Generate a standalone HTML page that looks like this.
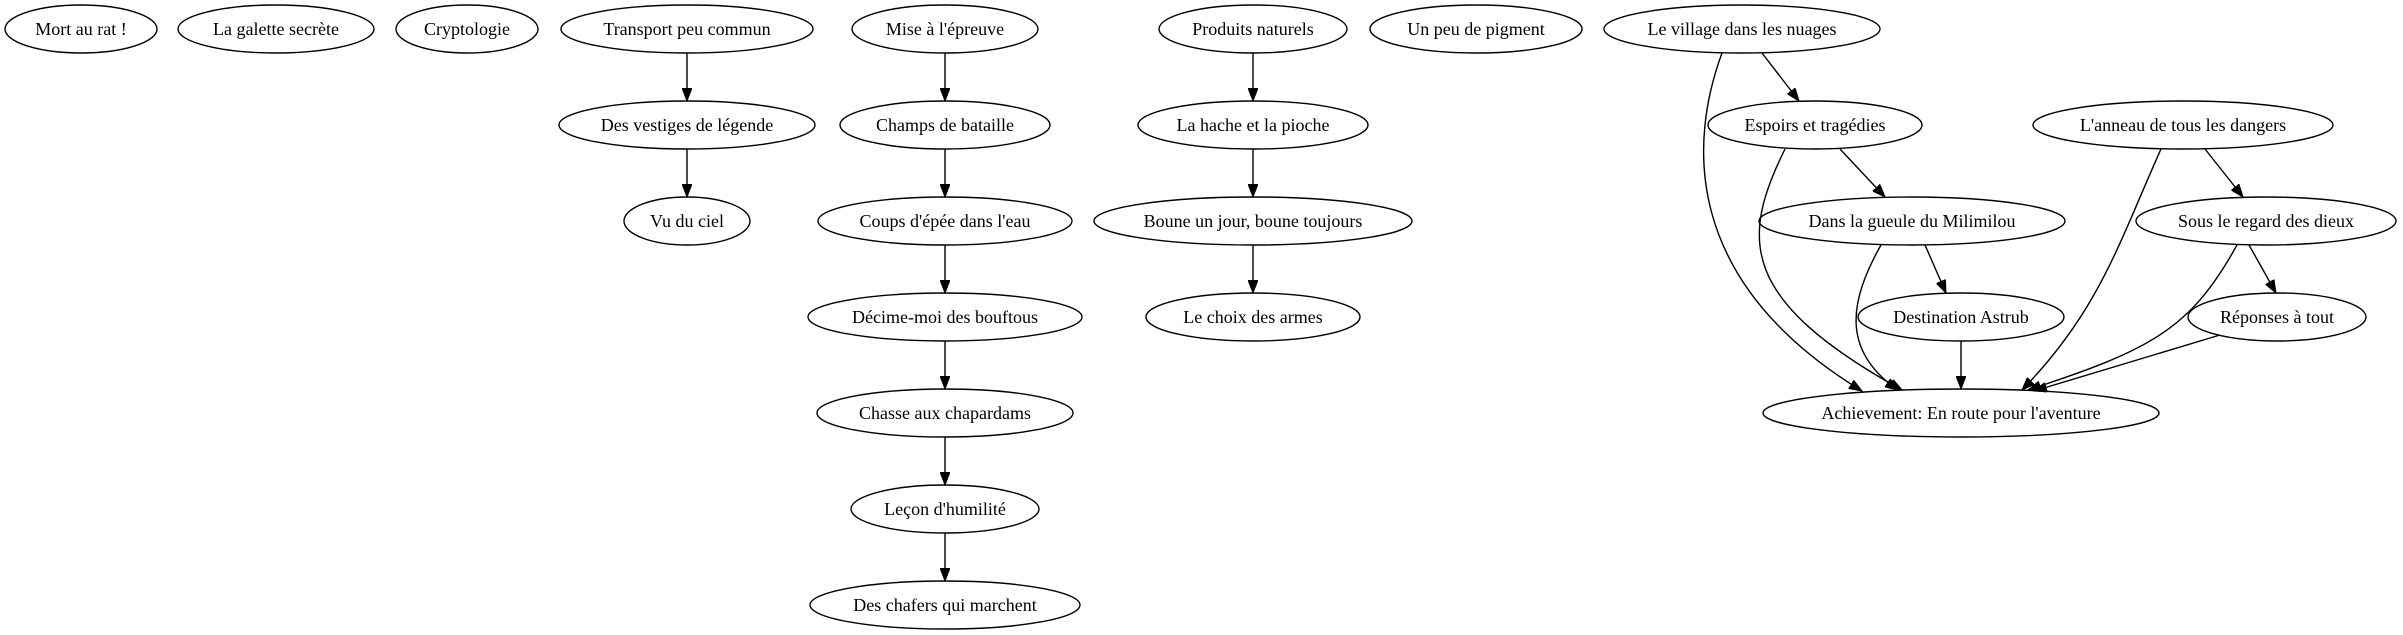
<!DOCTYPE html>
<html><head><meta charset="utf-8"><style>
html,body{margin:0;padding:0;background:#fff;}
svg{display:block;}
text{font-family:"Liberation Serif",serif;font-size:18px;text-anchor:middle;dominant-baseline:central;fill:#000;}
ellipse{fill:none;stroke:#000;stroke-width:1.4;}
path.e,line{fill:none;stroke:#000;stroke-width:1.4;}
path.h{fill:#000;stroke:#000;stroke-width:1;}
</style></head><body>
<svg width="2403" height="635" viewBox="0 0 2403 635" xmlns="http://www.w3.org/2000/svg">
<defs><marker id="a" markerWidth="14" markerHeight="10" refX="13" refY="5" orient="auto" markerUnits="userSpaceOnUse"><path class="h" d="M0,0 L13,5 L0,10 Z"/></marker></defs>
<g>
<ellipse cx="81" cy="29" rx="76" ry="24"/><text x="81" y="29">Mort au rat !</text>
<ellipse cx="276" cy="29" rx="98" ry="24"/><text x="276" y="29">La galette secrète</text>
<ellipse cx="467" cy="29" rx="71" ry="24"/><text x="467" y="29">Cryptologie</text>
<ellipse cx="687" cy="29" rx="126" ry="24"/><text x="687" y="29">Transport peu commun</text>
<ellipse cx="687" cy="125" rx="128" ry="24"/><text x="687" y="125">Des vestiges de légende</text>
<ellipse cx="687" cy="221" rx="63" ry="24"/><text x="687" y="221">Vu du ciel</text>
<ellipse cx="945" cy="29" rx="93" ry="24"/><text x="945" y="29">Mise à l'épreuve</text>
<ellipse cx="945" cy="125" rx="105" ry="24"/><text x="945" y="125">Champs de bataille</text>
<ellipse cx="945" cy="221" rx="127" ry="24"/><text x="945" y="221">Coups d'épée dans l'eau</text>
<ellipse cx="945" cy="317" rx="137" ry="24"/><text x="945" y="317">Décime-moi des bouftous</text>
<ellipse cx="945" cy="413" rx="128" ry="24"/><text x="945" y="413">Chasse aux chapardams</text>
<ellipse cx="945" cy="509" rx="94" ry="24"/><text x="945" y="509">Leçon d'humilité</text>
<ellipse cx="945" cy="605" rx="135" ry="24"/><text x="945" y="605">Des chafers qui marchent</text>
<ellipse cx="1253" cy="29" rx="94" ry="24"/><text x="1253" y="29">Produits naturels</text>
<ellipse cx="1253" cy="125" rx="115" ry="24"/><text x="1253" y="125">La hache et la pioche</text>
<ellipse cx="1253" cy="221" rx="159" ry="24"/><text x="1253" y="221">Boune un jour, boune toujours</text>
<ellipse cx="1253" cy="317" rx="107" ry="24"/><text x="1253" y="317">Le choix des armes</text>
<ellipse cx="1476" cy="29" rx="106" ry="24"/><text x="1476" y="29">Un peu de pigment</text>
<ellipse cx="1742" cy="29" rx="138" ry="24"/><text x="1742" y="29">Le village dans les nuages</text>
<ellipse cx="1815" cy="125" rx="107" ry="24"/><text x="1815" y="125">Espoirs et tragédies</text>
<ellipse cx="2183" cy="125" rx="150" ry="24"/><text x="2183" y="125">L'anneau de tous les dangers</text>
<ellipse cx="1912" cy="221" rx="153" ry="24"/><text x="1912" y="221">Dans la gueule du Milimilou</text>
<ellipse cx="2266" cy="221" rx="130" ry="24"/><text x="2266" y="221">Sous le regard des dieux</text>
<ellipse cx="1961" cy="317" rx="103" ry="24"/><text x="1961" y="317">Destination Astrub</text>
<ellipse cx="2277" cy="317" rx="89" ry="24"/><text x="2277" y="317">Réponses à tout</text>
<ellipse cx="1961" cy="413" rx="198" ry="24"/><text x="1961" y="413">Achievement: En route pour l'aventure</text>
</g>
<g>
<line x1="687" y1="53" x2="687" y2="101" marker-end="url(#a)"/>
<line x1="687" y1="149" x2="687" y2="197" marker-end="url(#a)"/>
<line x1="945" y1="53" x2="945" y2="101" marker-end="url(#a)"/>
<line x1="945" y1="149" x2="945" y2="197" marker-end="url(#a)"/>
<line x1="945" y1="245" x2="945" y2="293" marker-end="url(#a)"/>
<line x1="945" y1="341" x2="945" y2="389" marker-end="url(#a)"/>
<line x1="945" y1="437" x2="945" y2="485" marker-end="url(#a)"/>
<line x1="945" y1="533" x2="945" y2="581" marker-end="url(#a)"/>
<line x1="1253" y1="53" x2="1253" y2="101" marker-end="url(#a)"/>
<line x1="1253" y1="149" x2="1253" y2="197" marker-end="url(#a)"/>
<line x1="1253" y1="245" x2="1253" y2="293" marker-end="url(#a)"/>
<line x1="1762" y1="53" x2="1799" y2="101" marker-end="url(#a)"/>
<path class="e" d="M1722,53 C1690,140 1680,280 1862,391" marker-end="url(#a)"/>
<line x1="1840" y1="149" x2="1885" y2="197" marker-end="url(#a)"/>
<path class="e" d="M1785,149 C1740,240 1740,300 1902,390" marker-end="url(#a)"/>
<line x1="1925" y1="245" x2="1946" y2="293" marker-end="url(#a)"/>
<path class="e" d="M1881,245 C1850,300 1840,350 1898,390" marker-end="url(#a)"/>
<line x1="1961" y1="341" x2="1961" y2="389" marker-end="url(#a)"/>
<line x1="2205" y1="149" x2="2243" y2="197" marker-end="url(#a)"/>
<path class="e" d="M2161,149 C2120,240 2100,310 2022,390" marker-end="url(#a)"/>
<line x1="2249" y1="245" x2="2276" y2="293" marker-end="url(#a)"/>
<path class="e" d="M2237,245 C2190,330 2150,350 2028,390" marker-end="url(#a)"/>
<line x1="2220" y1="335" x2="2034" y2="391" marker-end="url(#a)"/>
</g>
</svg>
</body></html>
